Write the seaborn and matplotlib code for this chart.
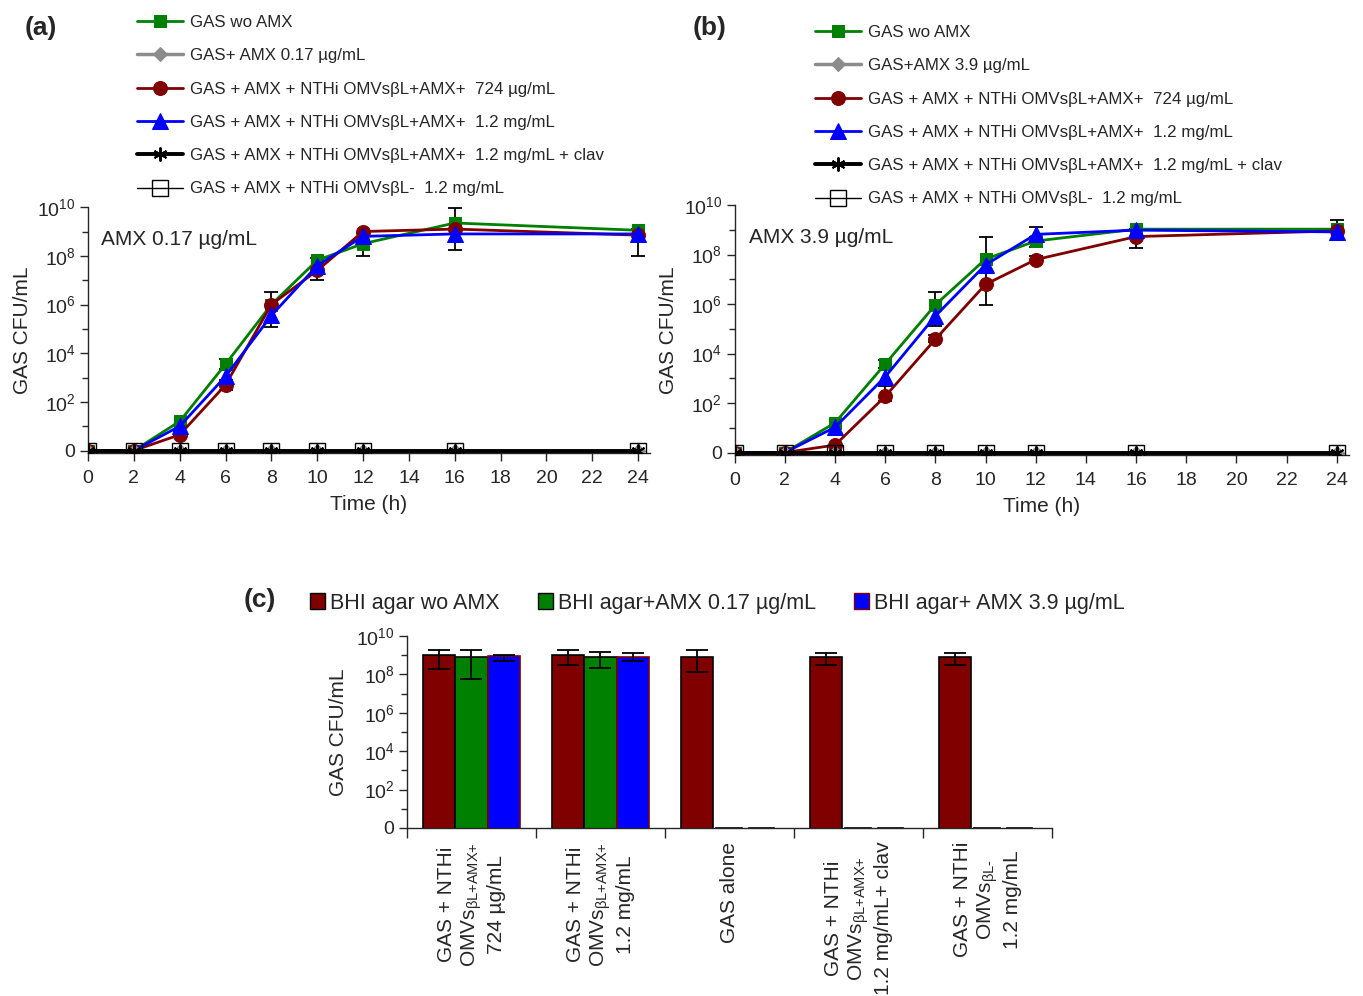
import numpy as np
import pandas as pd
import matplotlib
matplotlib.use("Agg")
import matplotlib.pyplot as plt
from matplotlib.ticker import FixedLocator, NullFormatter
from matplotlib.patches import Patch
import seaborn as sns

# ---------------- data (log10 CFU/mL; 0 means "0" on the axis) ----------------
time_h = [0, 2, 4, 6, 8, 10, 12, 16, 24]

a_green = [0, 0, 1.2, 3.55, 6.0, 7.82, 8.5, 9.35, 9.05]
a_red = [0, 0, 0.65, 2.7, 6.0, 7.4, 9.0, 9.1, 8.85]
a_blue = [0, 0, 1.0, 3.05, 5.55, 7.6, 8.8, 8.9, 8.9]
a_zero = [0, 0, 0, 0, 0, 0, 0, 0, 0]
a_green_lo = [np.nan, np.nan, np.nan, 3.35, np.nan, np.nan, 8.0, 8.23, np.nan]
a_green_hi = [np.nan, np.nan, np.nan, 3.75, np.nan, np.nan, 8.6, 9.98, np.nan]
a_red_lo = [np.nan, np.nan, 0.55, 2.5, 5.06, 7.0, np.nan, np.nan, 8.0]
a_red_hi = [np.nan, np.nan, 0.75, 2.9, 6.5, 7.9, np.nan, np.nan, 9.1]

b_green = [0, 0, 1.2, 3.58, 5.97, 7.82, 8.55, 9.03, 9.03]
b_red = [0, 0, 0.3, 2.27, 4.58, 6.8, 7.8, 8.73, 8.96]
b_blue = [0, 0, 1.02, 3.06, 5.52, 7.59, 8.82, 8.99, 8.92]
b_zero = [0, 0, 0, 0, 0, 0, 0, 0, 0]
b_green_lo = [np.nan, np.nan, np.nan, 3.4, 5.1, np.nan, 8.3, np.nan, 8.9]
b_green_hi = [np.nan, np.nan, np.nan, 3.75, 6.5, np.nan, 8.7, np.nan, 9.4]
b_red_lo = [np.nan, np.nan, np.nan, 2.1, 4.45, 5.97, 7.65, 8.27, np.nan]
b_red_hi = [np.nan, np.nan, np.nan, 2.7, 4.75, 8.7, 7.95, 9.05, np.nan]
b_blue_lo = [np.nan, np.nan, np.nan, np.nan, np.nan, np.nan, 8.5, np.nan, np.nan]
b_blue_hi = [np.nan, np.nan, np.nan, np.nan, np.nan, np.nan, 9.1, np.nan, np.nan]

a_labels = ["GAS wo AMX", "GAS+ AMX 0.17 µg/mL",
            "GAS + AMX + NTHi OMVsβL+AMX+  724 µg/mL",
            "GAS + AMX + NTHi OMVsβL+AMX+  1.2 mg/mL",
            "GAS + AMX + NTHi OMVsβL+AMX+  1.2 mg/mL + clav",
            "GAS + AMX + NTHi OMVsβL-  1.2 mg/mL"]
b_labels = ["GAS wo AMX", "GAS+AMX 3.9 µg/mL",
            "GAS + AMX + NTHi OMVsβL+AMX+  724 µg/mL",
            "GAS + AMX + NTHi OMVsβL+AMX+  1.2 mg/mL",
            "GAS + AMX + NTHi OMVsβL+AMX+  1.2 mg/mL + clav",
            "GAS + AMX + NTHi OMVsβL-  1.2 mg/mL"]

c_categories = ["GAS + NTHi\nOMVs$_{\\text{βL+AMX+}}$\n724 µg/mL",
                "GAS + NTHi\nOMVs$_{\\text{βL+AMX+}}$\n1.2 mg/mL",
                "GAS alone",
                "GAS + NTHi\nOMVs$_{\\text{βL+AMX+}}$\n1.2 mg/mL+ clav",
                "GAS + NTHi\nOMVs$_{\\text{βL-}}$\n1.2 mg/mL"]
c_media = ["BHI agar wo AMX", "BHI agar+AMX 0.17 µg/mL", "BHI agar+ AMX 3.9 µg/mL"]
c_wo = [9.03, 9.03, 8.9, 8.9, 8.9]
c_017 = [8.89, 8.89, 0, 0, 0]
c_39 = [8.94, 8.9, 0, 0, 0]
c_wo_lo = [8.26, 8.48, 8.14, 8.48, 8.48]
c_wo_hi = [9.25, 9.25, 9.25, 9.12, 9.12]
c_017_lo = [7.78, 8.34, np.nan, np.nan, np.nan]
c_017_hi = [9.25, 9.15, np.nan, np.nan, np.nan]
c_39_lo = [8.68, 8.68, np.nan, np.nan, np.nan]
c_39_hi = [9.03, 9.1, np.nan, np.nan, np.nan]

y_tick_vals = [0, 2, 4, 6, 8, 10]
y_tick_labels = ["0", "$10^{2}$", "$10^{4}$", "$10^{6}$", "$10^{8}$", "$10^{10}$"]
y_minor_vals = [1, 3, 5, 7, 9]
x_ticks = [0, 2, 4, 6, 8, 10, 12, 14, 16, 18, 20, 22, 24]

GREEN = "#008000"
RED = "#800000"
BLUE = "#0000FF"
GRAY = "#8C8C8C"

# ---------------- style ----------------
sns.set_style("ticks")
plt.rcParams["font.family"] = ["Liberation Sans", "DejaVu Sans"]
plt.rcParams["mathtext.fontset"] = "custom"
plt.rcParams["mathtext.rm"] = "Liberation Sans"
plt.rcParams["mathtext.it"] = "Liberation Sans:italic"
plt.rcParams["mathtext.bf"] = "Liberation Sans:bold"
plt.rcParams["mathtext.default"] = "regular"
plt.rcParams["axes.linewidth"] = 1.0

fig = plt.figure(figsize=(13.63, 9.96), dpi=100)
axA = fig.add_axes([0.0646, 0.545, 0.412, 0.247])
axB = fig.add_axes([0.539, 0.543, 0.451, 0.251])
axC = fig.add_axes([0.2986, 0.1687, 0.473, 0.1927])


def pw(v):
    return 10.0 ** np.asarray(v, dtype=float)


def style_log_y(ax, bottom):
    ax.set_yscale("log")
    ax.set_ylim(bottom, 1e10)
    ax.yaxis.set_major_locator(FixedLocator(list(pw(y_tick_vals))))
    ax.set_yticklabels(y_tick_labels)
    ax.yaxis.set_minor_locator(FixedLocator(list(pw(y_minor_vals))))
    ax.yaxis.set_minor_formatter(NullFormatter())
    ax.tick_params(axis="y", which="major", length=6, width=1, labelsize=14, pad=3)
    ax.tick_params(axis="y", which="minor", length=4, width=1)


def errs(ax, x, y, lo, hi, cap=5):
    x = np.asarray(x, float)
    y = pw(y)
    lo = pw(lo)
    hi = pw(hi)
    m = ~np.isnan(lo)
    ax.errorbar(x[m], y[m], yerr=[y[m] - lo[m], hi[m] - y[m]], fmt="none",
                ecolor="black", elinewidth=1.3, capsize=cap, capthick=1.3, zorder=2)


def time_panel(ax, green, red, blue, zero, errlist, labels, note, legend_anchor):
    for (lo, hi, base) in errlist:
        errs(ax, time_h, base, lo, hi)
    sns.lineplot(x=time_h, y=pw(green), ax=ax, color=GREEN, marker="s", markersize=9,
                 markeredgecolor=GREEN, linewidth=2, zorder=3)
    h_green = ax.lines[-1]
    sns.lineplot(x=time_h, y=pw(red), ax=ax, color=RED, marker="o", markersize=10,
                 markeredgecolor=RED, linewidth=2, zorder=3)
    h_red = ax.lines[-1]
    sns.lineplot(x=time_h, y=pw(blue), ax=ax, color=BLUE, marker="^", markersize=11,
                 markeredgecolor=BLUE, linewidth=2, zorder=3)
    h_blue = ax.lines[-1]
    sns.lineplot(x=time_h, y=pw(zero), ax=ax, color=GRAY, marker="D", markersize=7,
                 markeredgecolor=GRAY, linewidth=2.5, zorder=4)
    h_gray = ax.lines[-1]
    sns.lineplot(x=time_h, y=pw(zero), ax=ax, color="black", marker=(6, 2, 0), markersize=10,
                 markeredgecolor="black", markeredgewidth=1.4, linewidth=2.8, zorder=5)
    h_clav = ax.lines[-1]
    sns.lineplot(x=time_h, y=pw(zero), ax=ax, color="black", marker="s", markersize=11,
                 markerfacecolor="none", markeredgecolor="black", markeredgewidth=1.0,
                 linewidth=1.0, zorder=6)
    h_sq = ax.lines[-1]
    handles = [h_green, h_gray, h_red, h_blue, h_clav, h_sq]
    style_log_y(ax, 0.78)
    ax.set_xlim(0, 24.5)
    ax.set_xticks(x_ticks)
    ax.tick_params(axis="x", length=6, width=1, labelsize=14, pad=6)
    ax.set_xlabel("Time (h)", fontsize=15, labelpad=6)
    ax.set_ylabel("GAS CFU/mL", fontsize=15, labelpad=4)
    sns.despine(ax=ax)
    ax.text(0.023, 0.87, note, transform=ax.transAxes, fontsize=15, va="center", ha="left")
    fig.legend(handles, labels, loc="upper left", bbox_to_anchor=legend_anchor,
               frameon=False, fontsize=12.2, handlelength=2.7, handletextpad=0.45,
               labelspacing=1.08, borderpad=0, borderaxespad=0)


time_panel(axA, a_green, a_red, a_blue, a_zero,
           [(a_green_lo, a_green_hi, a_green), (a_red_lo, a_red_hi, a_red)],
           a_labels, "AMX 0.17 µg/mL", (137 / 1363, 1 - 15 / 996))
time_panel(axB, b_green, b_red, b_blue, b_zero,
           [(b_green_lo, b_green_hi, b_green), (b_red_lo, b_red_hi, b_red),
            (b_blue_lo, b_blue_hi, b_blue)],
           b_labels, "AMX 3.9 µg/mL", (815 / 1363, 1 - 25 / 996))

# ---------------- panel (c) ----------------
rows = []
for med, vals in zip(c_media, [c_wo, c_017, c_39]):
    for cat, v in zip(c_categories, vals):
        rows.append({"category": cat, "medium": med, "cfu": 10.0 ** v})
dfc = pd.DataFrame(rows)
sns.barplot(data=dfc, x="category", y="cfu", hue="medium", order=c_categories,
            hue_order=c_media, palette=[RED, GREEN, BLUE], width=0.75,
            edgecolor="black", linewidth=1.2, errorbar=None, legend=False, ax=axC,
            saturation=1)
patches = list(axC.patches)
nc = len(c_categories)
all_lo = [c_wo_lo, c_017_lo, c_39_lo]
all_hi = [c_wo_hi, c_017_hi, c_39_hi]
all_v = [c_wo, c_017, c_39]
for k in range(len(c_media)):
    xs = []
    for i in range(nc):
        p = patches[k * nc + i]
        if k == 2:
            p.set_edgecolor(RED)
        if all_v[k][i] == 0:
            # empty bar: only a short dash on the baseline
            w = p.get_width()
            p.set_x(p.get_x() + 0.1 * w)
            p.set_width(0.8 * w)
            p.set_edgecolor("black")
        xs.append(p.get_x() + p.get_width() / 2)
    errs(axC, xs, all_v[k], all_lo[k], all_hi[k], cap=8)

style_log_y(axC, 1.0)
axC.set_xlim(-0.5, nc - 0.5)
axC.set_xlabel("")
axC.set_ylabel("GAS CFU/mL", fontsize=15, labelpad=6)
axC.set_xticks(range(nc))
axC.set_xticklabels(c_categories, rotation=90, ha="center", va="top",
                    multialignment="center", fontsize=15)
axC.tick_params(axis="x", which="major", length=0, pad=10)
axC.xaxis.set_minor_locator(FixedLocator([i - 0.5 for i in range(nc + 1)]))
axC.tick_params(axis="x", which="minor", length=7, width=1)
sns.despine(ax=axC)

leg_handles = [Patch(facecolor=RED, edgecolor="black"),
               Patch(facecolor=GREEN, edgecolor="black"),
               Patch(facecolor=BLUE, edgecolor=RED)]
fig.legend(leg_handles, c_media, loc="center left", bbox_to_anchor=(310 / 1363, 1 - 603 / 996),
           ncol=3, frameon=False, fontsize=15.5, handlelength=0.7, handleheight=0.7,
           handletextpad=0.25, columnspacing=1.75, borderpad=0, borderaxespad=0)

fig.text(25 / 1363, 1 - 28 / 996, "(a)", fontsize=19, fontweight="bold", va="center")
fig.text(693 / 1363, 1 - 28 / 996, "(b)", fontsize=19, fontweight="bold", va="center")
fig.text(244 / 1363, 1 - 600 / 996, "(c)", fontsize=19, fontweight="bold", va="center")

fig.savefig("out.png", dpi=100)
